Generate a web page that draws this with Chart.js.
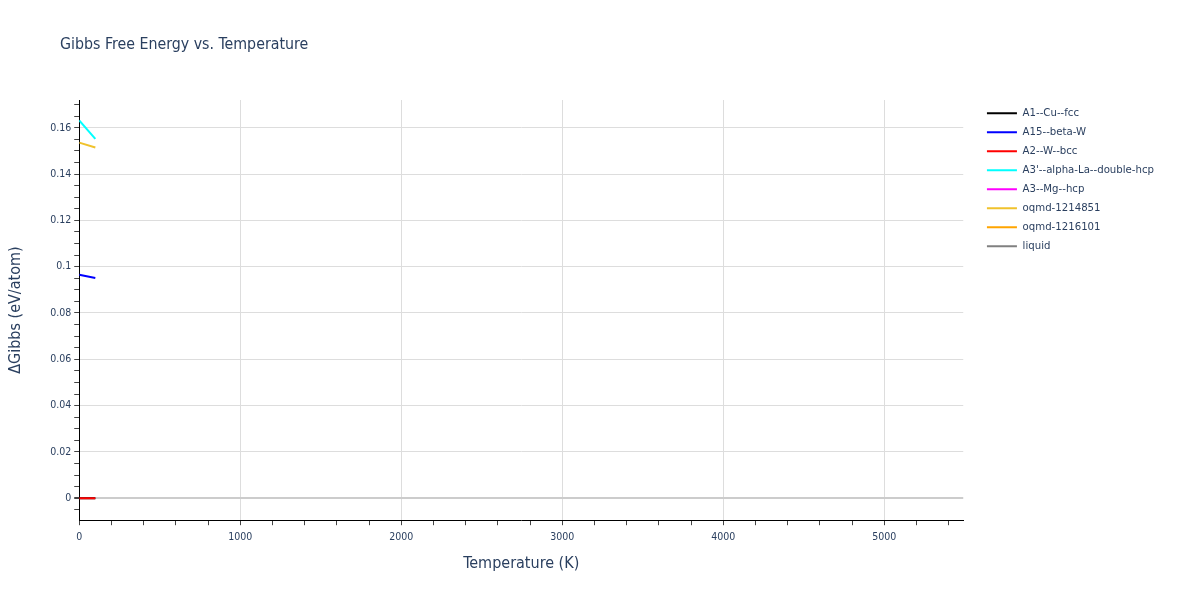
<!DOCTYPE html>
<html>
<head>
<meta charset="utf-8">
<script src="https://cdn.jsdelivr.net/npm/chart.js@4.4.1/dist/chart.umd.min.js"></script>
<style>
  html, body { margin: 0; padding: 0; background: #fff; }
  #wrap { width: 1200px; height: 600px; position: relative; }
</style>
</head>
<body>
<div id="wrap"><canvas id="gibbsChart" width="1200" height="600"></canvas></div>
<script>
// temperatures (K) and ΔGibbs values (eV/atom)
const temps = [0, 100];
const a1CuFcc = [0, 0];
const a15BetaW = [0.0965, 0.0951];
const a2WBcc = [0, 0];
const a3AlphaLa = [0.1632, 0.1552];
const a3MgHcp = [];
const oqmd1214851 = [0.1536, 0.1515];
const oqmd1216101 = [];
const liquid = [];

const seriesNames = ['A1--Cu--fcc', 'A15--beta-W', 'A2--W--bcc', "A3'--alpha-La--double-hcp",
    'A3--Mg--hcp', 'oqmd-1214851', 'oqmd-1216101', 'liquid'];
const seriesValues = [a1CuFcc, a15BetaW, a2WBcc, a3AlphaLa, a3MgHcp, oqmd1214851, oqmd1216101, liquid];
const seriesColors = ['#000000', '#0000ff', '#ff0000', '#00ffff', '#ff00ff', '#f0c22c', '#ffa500', '#808080'];

const xTickLabels = [0, 1000, 2000, 3000, 4000, 5000];
const yTickLabels = [0, 0.02, 0.04, 0.06, 0.08, 0.1, 0.12, 0.14, 0.16];
const xMinorStep = 200;
const yMinorStep = 0.005;

const fontFamily = '"DejaVu Sans Condensed", "DejaVu Sans", sans-serif';
const textColor = '#2a3f5f';

function buildPoints(values) {
    return values.map((v, i) => ({ x: temps[i], y: v }));
}

function isMajor(value, majors) {
    return majors.some(m => Math.abs(m - value) < 1e-9);
}

// minor ticks every step, labels only on the major values
function minorTicks(scale, step) {
    const ticks = [];
    const start = Math.ceil(scale.min / step - 1e-9);
    const end = Math.floor(scale.max / step + 1e-9);
    for (let i = start; i <= end; i++) {
        ticks.push({ value: Math.round(i * step * 1e6) / 1e6 });
    }
    scale.ticks = ticks;
}

// plot title drawn at the top left like the original
const titlePlugin = {
    id: 'plotTitle',
    afterDraw(chart) {
        const ctx = chart.ctx;
        ctx.save();
        ctx.font = '15.8px ' + fontFamily;
        ctx.fillStyle = textColor;
        ctx.textBaseline = 'middle';
        ctx.textAlign = 'left';
        ctx.fillText('Gibbs Free Energy vs. Temperature', 60, 45);
        ctx.restore();
    }
};

// later traces are drawn on top, as in the original
const datasets = seriesNames.map((name, i) => ({
    label: name,
    data: buildPoints(seriesValues[i]),
    borderColor: seriesColors[i],
    backgroundColor: seriesColors[i],
    borderWidth: 2,
    pointRadius: 0,
    pointHoverRadius: 0,
    fill: false,
    tension: 0,
    order: seriesNames.length - i
}));

new Chart(document.getElementById('gibbsChart').getContext('2d'), {
    type: 'line',
    data: { datasets: datasets },
    plugins: [titlePlugin],
    options: {
        responsive: false,
        animation: false,
        devicePixelRatio: 1,
        layout: { padding: { top: 100, left: 0, right: 36, bottom: 0 } },
        plugins: {
            title: { display: false },
            tooltip: { enabled: false },
            legend: {
                position: 'right',
                align: 'start',
                labels: {
                    usePointStyle: true,
                    pointStyle: 'line',
                    pointStyleWidth: 30,
                    boxHeight: 12,
                    padding: 7.7,
                    color: textColor,
                    font: { family: fontFamily, size: 11.3 },
                    sort: (a, b) => a.datasetIndex - b.datasetIndex
                }
            }
        },
        scales: {
            x: {
                type: 'linear',
                min: 0,
                max: 5490,
                afterBuildTicks: scale => minorTicks(scale, xMinorStep),
                title: {
                    display: true,
                    text: 'Temperature (K)',
                    color: textColor,
                    font: { family: fontFamily, size: 16 },
                    padding: { top: 4, bottom: 27 }
                },
                ticks: {
                    autoSkip: false,
                    maxRotation: 0,
                    padding: 6,
                    color: textColor,
                    font: { family: fontFamily, size: 10.5 },
                    callback: v => isMajor(v, xTickLabels) ? String(v) : ''
                },
                grid: {
                    drawTicks: true,
                    tickLength: 5,
                    tickColor: '#444',
                    color: ctx => (ctx.tick && isMajor(ctx.tick.value, xTickLabels) && ctx.tick.value !== 0) ? '#dddddd' : 'rgba(0,0,0,0)'
                },
                border: { display: true, color: '#000', width: 1 }
            },
            y: {
                type: 'linear',
                min: -0.0095,
                max: 0.172,
                afterBuildTicks: scale => minorTicks(scale, yMinorStep),
                title: {
                    display: true,
                    text: 'ΔGibbs (eV/atom)',
                    color: textColor,
                    font: { family: fontFamily, size: 16 },
                    padding: { top: 6, bottom: 22 }
                },
                ticks: {
                    autoSkip: false,
                    padding: 3,
                    color: textColor,
                    font: { family: fontFamily, size: 10.5 },
                    callback: v => isMajor(v, yTickLabels) ? String(v) : ''
                },
                grid: {
                    drawTicks: true,
                    tickLength: 5,
                    tickColor: '#444',
                    color: ctx => {
                        if (!ctx.tick) return 'rgba(0,0,0,0)';
                        if (Math.abs(ctx.tick.value) < 1e-9) return '#cccccc';
                        return isMajor(ctx.tick.value, yTickLabels) ? '#dddddd' : 'rgba(0,0,0,0)';
                    },
                    lineWidth: ctx => (ctx.tick && Math.abs(ctx.tick.value) < 1e-9) ? 2 : 1
                },
                border: { display: true, color: '#000', width: 1 }
            },
            // empty spacer between the plot and the legend
            gap: {
                type: 'linear',
                position: 'right',
                display: true,
                grid: { display: false, drawTicks: false },
                ticks: { display: false },
                border: { display: false },
                afterFit: scale => { scale.width = 16; }
            }
        }
    }
});
</script>
</body>
</html>
